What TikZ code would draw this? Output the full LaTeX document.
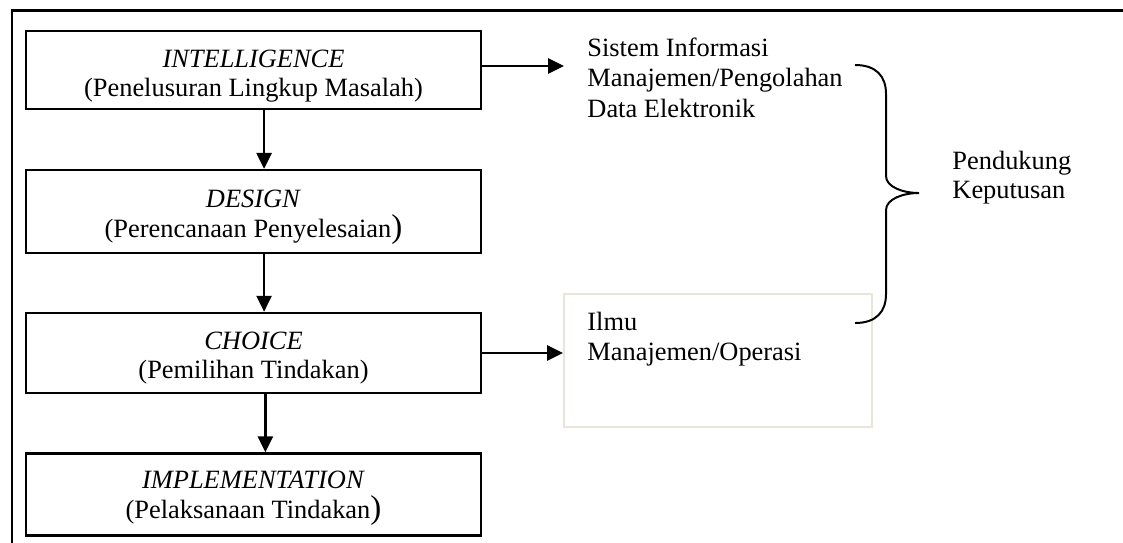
\documentclass[tikz,border=0pt]{standalone}
\usepackage{fontspec}
\setmainfont{Liberation Serif}
\usetikzlibrary{arrows.meta}
\newcommand{\bigclose}{{\fontsize{15}{15}\selectfont)}}
\definecolor{paleframe}{HTML}{E8E6DA}

\begin{document}
\begin{tikzpicture}[x=0.4545pt,y=-0.4545pt,
  stage/.style={draw,line width=1.1pt,minimum width=206.8pt,inner sep=0pt},
  arr/.style={line width=1.1pt,-{Triangle[length=7.2pt,width=6.8pt]}},
  lbl/.style={inner sep=0pt,font=\fontsize{12}{14}\selectfont},
  mid/.style={lbl,anchor=base},
  left/.style={lbl,anchor=base west},
  frameline/.style={line width=1.1pt,line cap=rect}]

\useasboundingbox (0,0) rectangle (1123,542);

% open outer frame: only top and left sides
\coordinate (fbl) at (12,542);
\coordinate (ftl) at (12,10.5);
\coordinate (ftr) at (1123,10.5);
\draw[frameline] (fbl) -- (ftl) -- (ftr);

% the four decision stages
\node[stage,minimum height=35.45pt] (intel)  at (253.5,70)    {};
\node[stage,minimum height=37.7pt]  (design) at (253.5,211.5) {};
\node[stage,minimum height=36.4pt]  (choice) at (253.5,353)   {};
\node[stage,minimum height=37.3pt]  (impl)   at (253.5,494.5) {};

\node[mid] (intelA)  at (253.5,67)  {\textit{INTELLIGENCE}};
\node[mid] (intelB)  at (253.5,96)  {(Penelusuran Lingkup Masalah)};
\node[mid] (designA) at (253.5,207) {\textit{DESIGN}};
\node[mid] (designB) at (253.5,237) {(Perencanaan Penyelesaian\bigclose};
\node[mid] (choiceA) at (253.5,349) {\textit{CHOICE}};
\node[mid] (choiceB) at (253.5,378) {(Pemilihan Tindakan)};
\node[mid] (implA)   at (253.5,488) {\textit{IMPLEMENTATION}};
\node[mid] (implB)   at (253.5,518) {(Pelaksanaan Tindakan\bigclose};

% flow between stages
\draw[arr] ([xshift=4.8pt]intel.south)  -- ([xshift=4.8pt]design.north);
\draw[arr] ([xshift=4.8pt]design.south) -- ([xshift=4.8pt]choice.north);
\draw[arr] ([xshift=5.4pt]choice.south) -- ([xshift=5.4pt]impl.north);

% supporting systems
\node[draw=paleframe,line width=0.9pt,minimum width=140pt,minimum height=60.45pt,inner sep=0pt]
  (ilmu) at (718,360.5) {};
\node[left] (ilmuA) at (587,330) {Ilmu};
\node[left] (ilmuB) at (587,360) {Manajemen/Operasi};

\node[left] (simA) at (587,56)  {Sistem Informasi};
\node[left] (simB) at (587,86.5){Manajemen/Pengolahan};
\node[left] (simC) at (587,117) {Data Elektronik};

\coordinate (simtip) at (564,66);
\draw[arr] (intel.east |- simtip) -- (simtip);
\draw[arr] (choice.east) -- (ilmu.west |- choice.east);

% brace grouping both supports
\coordinate (brtop) at (855,65);
\coordinate (brtip) at (919,193);
\coordinate (brbot) at (855,323);
\draw[line width=0.9pt]
  (brtop) .. controls (876,65) and (886,76) .. (886,94)
  -- (886,176)
  .. controls (886,187) and (903,193) .. (brtip)
  .. controls (903,193) and (886,199) .. (886,210)
  -- (886,294)
  .. controls (886,312) and (876,323) .. (brbot);

\node[left] (supA) at (952,169) {Pendukung};
\node[left] (supB) at (952,198) {Keputusan};

\end{tikzpicture}
\end{document}
